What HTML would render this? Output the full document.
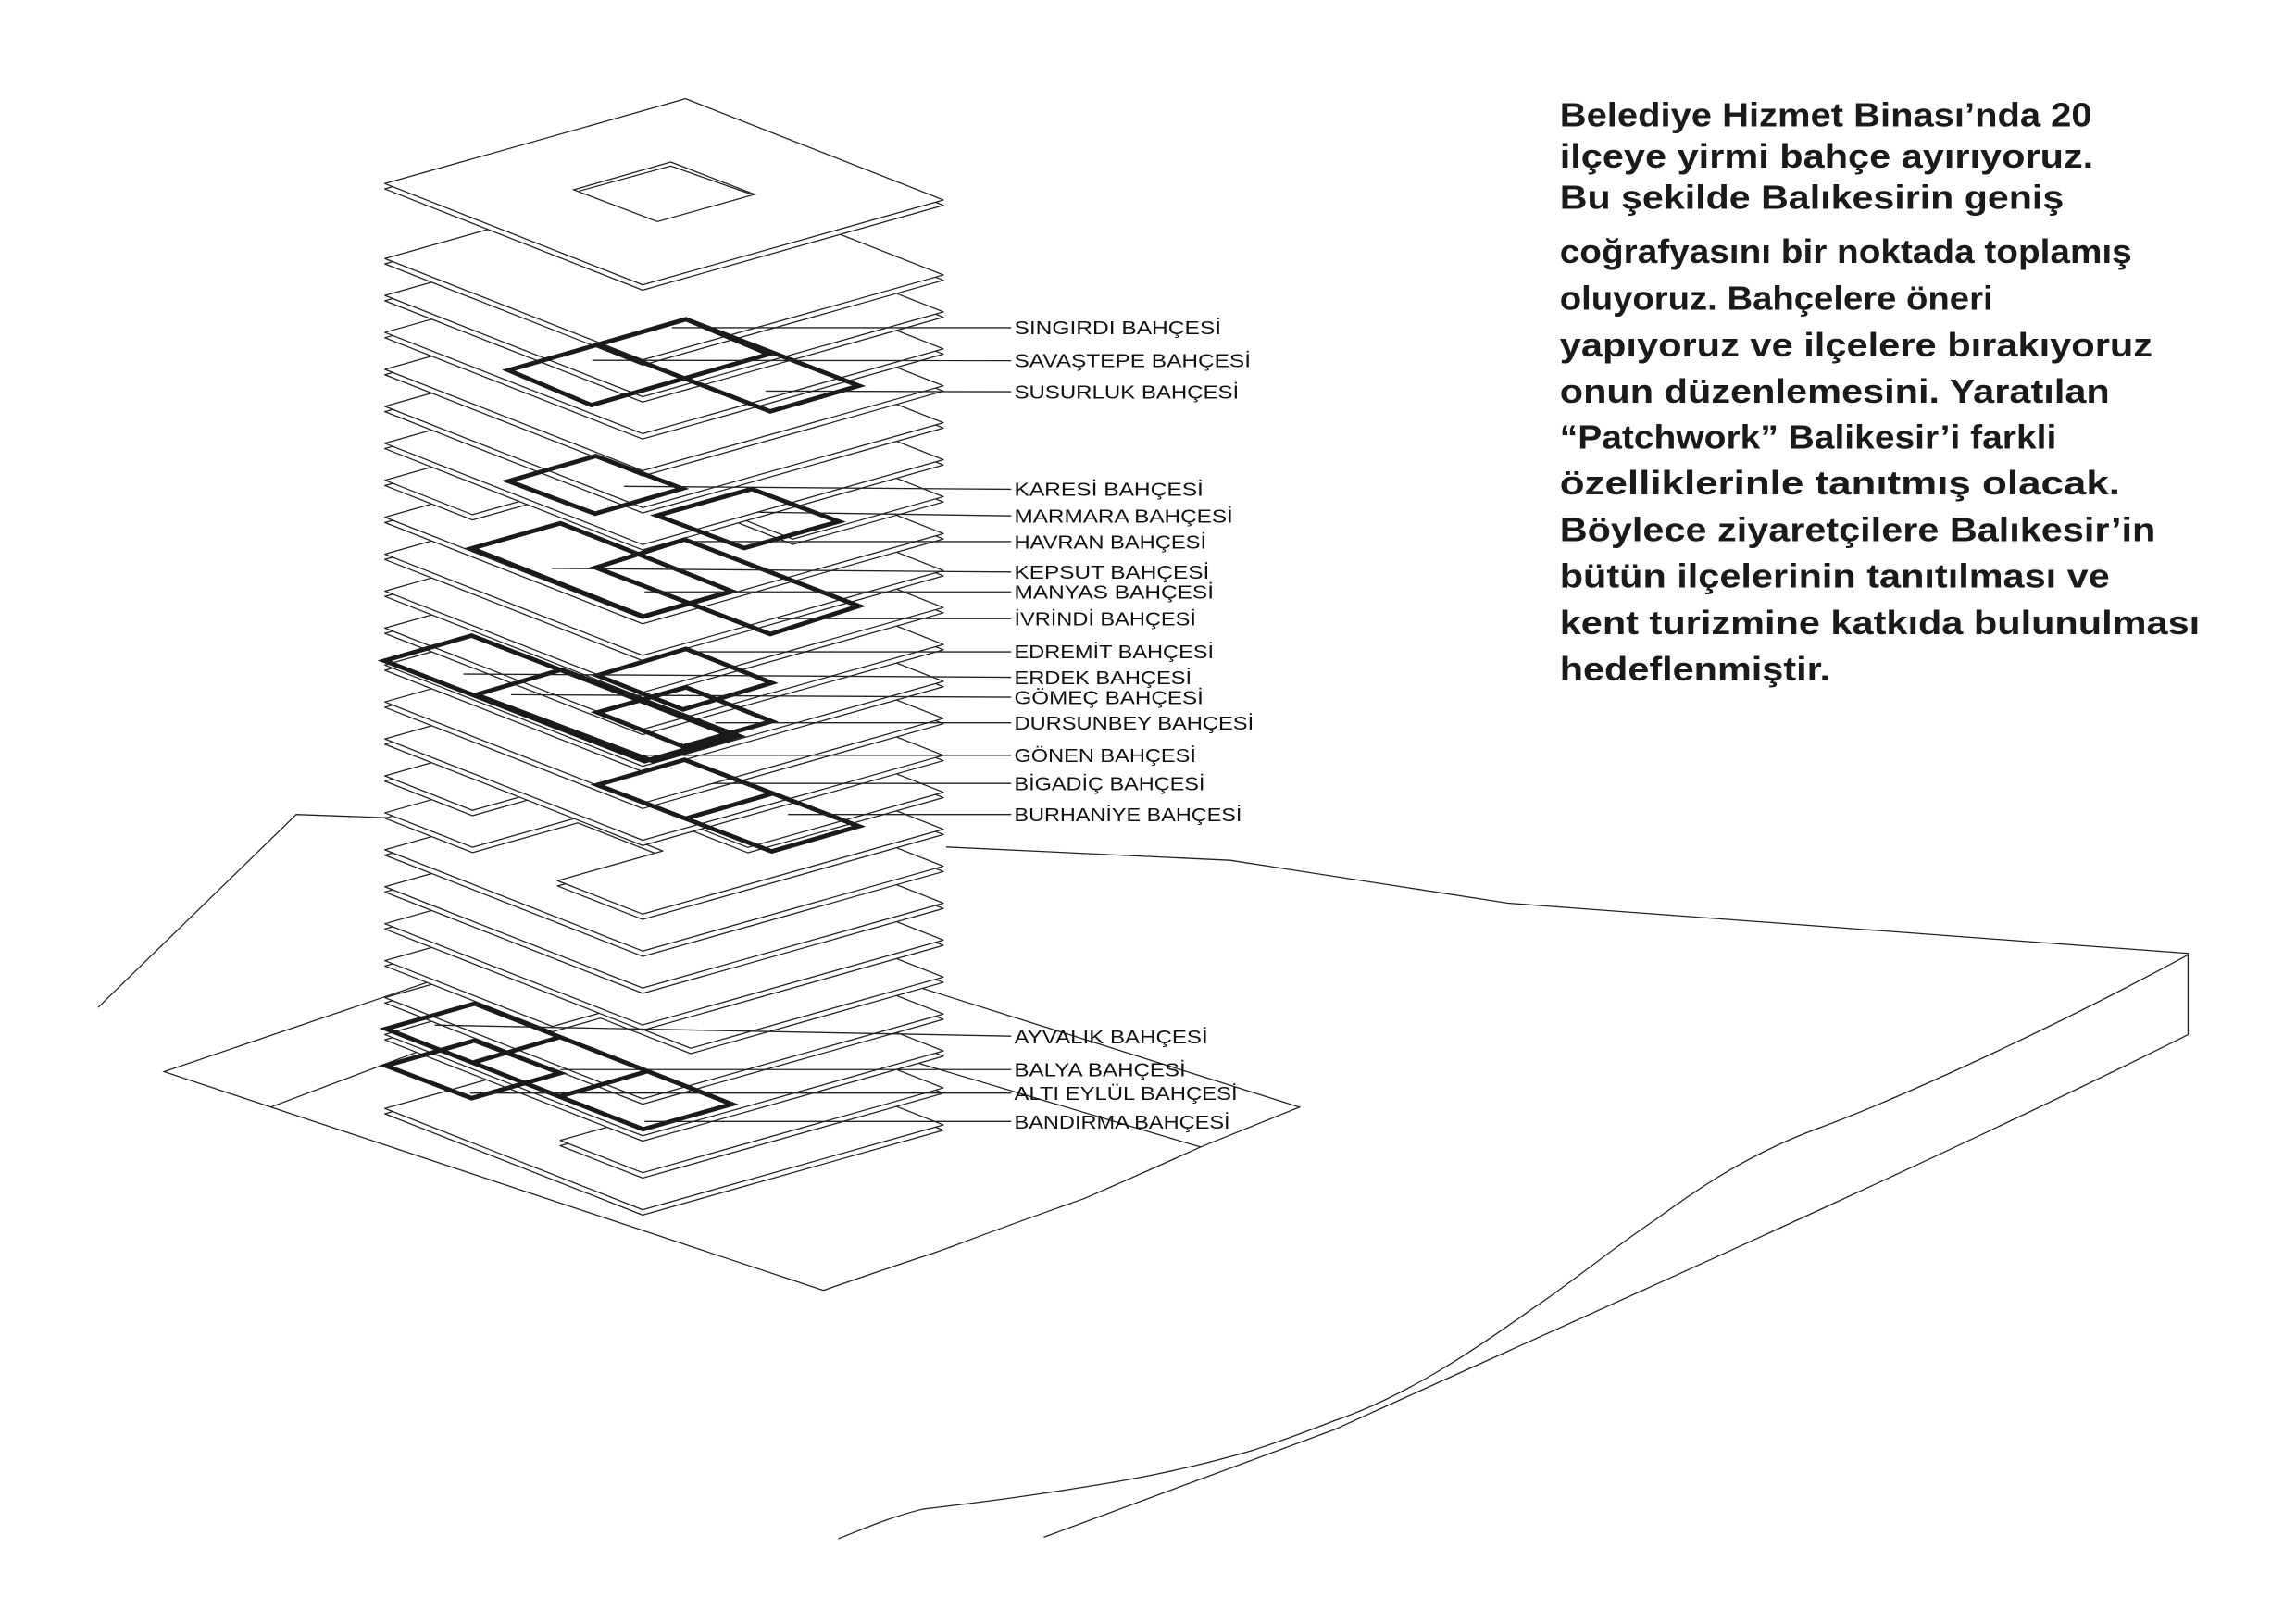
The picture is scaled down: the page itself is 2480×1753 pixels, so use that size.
<!DOCTYPE html>
<html><head><meta charset="utf-8"><style>
html,body{margin:0;padding:0;background:#fff;}
svg{display:block;}
.lb{font-family:"Liberation Sans",Arial,sans-serif;font-size:12.5px;fill:#111;}
.pg{font-family:"Liberation Sans",Arial,sans-serif;font-size:22.5px;font-weight:bold;fill:#1a1a1a;}
</style></head><body>
<svg id="s" width="2480" height="1753" viewBox="0 0 1553 1098" preserveAspectRatio="none" xmlns="http://www.w3.org/2000/svg">
<rect width="1553" height="1098" fill="#fff"/>
<g fill="none" stroke="#222" stroke-width="0.8">
<polyline points="66.4,681.5 200.4,551 269,553.5"/>
<polyline points="640,573 832,582 1020,611 1480,645 1480,700"/>
<path d="M1480,646 C1380,700 1280,745 1228,764 C1180,782 1146,806 1120,825 C1090,845 1060,870 1037,885 C995,915 950,945 903,961 C880,970 860,977 848,981 C800,995 760,1002 727,1007 C690,1013 650,1018 624,1021 C600,1027 585,1034 567,1041"/>
<path d="M1480,700 C1300,790 1050,900 903,967 L706,1040"/>
<polyline points="444,612 111,725 557,873"/>
<path d="M557,873 C600,858 640,845 642,844 C690,826 733,811 733,811 C770,795 812,776 812,776 L879,749 L444,612"/>
<line x1="183" y1="749" x2="300" y2="705"/>
<line x1="812" y1="776" x2="600" y2="713"/>
</g>
<g id="bld"></g>
<g id="gar" fill="none" stroke="#1a1a1a" stroke-width="3" stroke-linejoin="miter"></g>
<g stroke="#222" stroke-width="0.85" fill="none">
<line x1="454.5" y1="221.7" x2="684" y2="221.7"/>
<line x1="400.6" y1="243.8" x2="684" y2="244"/>
<line x1="518" y1="264.6" x2="684" y2="265"/>
<line x1="422" y1="329" x2="684" y2="331"/>
<line x1="512" y1="346.5" x2="684" y2="349"/>
<line x1="466" y1="366.4" x2="684" y2="366.4"/>
<line x1="373" y1="384.5" x2="684" y2="387"/>
<line x1="436" y1="400.4" x2="684" y2="400.4"/>
<line x1="526" y1="418.5" x2="684" y2="418.5"/>
<line x1="466" y1="441" x2="684" y2="441"/>
<line x1="313.5" y1="456" x2="684" y2="458.2"/>
<line x1="345.6" y1="470" x2="684" y2="471.7"/>
<line x1="484" y1="489" x2="684" y2="489"/>
<line x1="435" y1="511" x2="684" y2="511"/>
<line x1="482" y1="530" x2="684" y2="530"/>
<line x1="533" y1="551" x2="684" y2="551"/>
<line x1="294" y1="693.5" x2="684" y2="701"/>
<line x1="379" y1="723.6" x2="684" y2="723.6"/>
<line x1="318" y1="739.5" x2="684" y2="739.5"/>
<line x1="436" y1="758.7" x2="684" y2="758.7"/>
</g>
<g class="lb">
<text x="686" y="226.2" textLength="140" lengthAdjust="spacingAndGlyphs">SINGIRDI BAHÇESİ</text>
<text x="686" y="248.5" textLength="160" lengthAdjust="spacingAndGlyphs">SAVAŞTEPE BAHÇESİ</text>
<text x="686" y="269.5" textLength="152" lengthAdjust="spacingAndGlyphs">SUSURLUK BAHÇESİ</text>
<text x="686" y="335.5" textLength="128" lengthAdjust="spacingAndGlyphs">KARESİ BAHÇESİ</text>
<text x="686" y="353.5" textLength="148" lengthAdjust="spacingAndGlyphs">MARMARA BAHÇESİ</text>
<text x="686" y="371" textLength="130" lengthAdjust="spacingAndGlyphs">HAVRAN BAHÇESİ</text>
<text x="686" y="391.5" textLength="132" lengthAdjust="spacingAndGlyphs">KEPSUT  BAHÇESİ</text>
<text x="686" y="405" textLength="135" lengthAdjust="spacingAndGlyphs">MANYAS  BAHÇESİ</text>
<text x="686" y="423" textLength="123" lengthAdjust="spacingAndGlyphs">İVRİNDİ BAHÇESİ</text>
<text x="686" y="445.5" textLength="135" lengthAdjust="spacingAndGlyphs">EDREMİT BAHÇESİ</text>
<text x="686" y="463" textLength="120" lengthAdjust="spacingAndGlyphs">ERDEK BAHÇESİ</text>
<text x="686" y="476.5" textLength="128" lengthAdjust="spacingAndGlyphs">GÖMEÇ  BAHÇESİ</text>
<text x="686" y="493.5" textLength="162" lengthAdjust="spacingAndGlyphs">DURSUNBEY BAHÇESİ</text>
<text x="686" y="515.5" textLength="123" lengthAdjust="spacingAndGlyphs">GÖNEN BAHÇESİ</text>
<text x="686" y="534.5" textLength="129" lengthAdjust="spacingAndGlyphs">BİGADİÇ BAHÇESİ</text>
<text x="686" y="555.5" textLength="154" lengthAdjust="spacingAndGlyphs">BURHANİYE BAHÇESİ</text>
<text x="686" y="706" textLength="131" lengthAdjust="spacingAndGlyphs">AYVALIK BAHÇESİ</text>
<text x="686" y="728" textLength="116" lengthAdjust="spacingAndGlyphs">BALYA BAHÇESİ</text>
<text x="686" y="744" textLength="151" lengthAdjust="spacingAndGlyphs">ALTI EYLÜL BAHÇESİ</text>
<text x="686" y="763.5" textLength="146" lengthAdjust="spacingAndGlyphs">BANDIRMA BAHÇESİ</text>
</g>
<g class="pg">
<text x="1055" y="85.6" textLength="360" lengthAdjust="spacingAndGlyphs">Belediye Hizmet Binası’nda 20</text>
<text x="1055" y="113.4" textLength="361" lengthAdjust="spacingAndGlyphs">ilçeye yirmi bahçe ayırıyoruz.</text>
<text x="1055" y="141.2" textLength="341" lengthAdjust="spacingAndGlyphs">Bu şekilde Balıkesirin geniş</text>
<text x="1055" y="178" textLength="387" lengthAdjust="spacingAndGlyphs">coğrafyasını bir noktada toplamış</text>
<text x="1055" y="209.5" textLength="293" lengthAdjust="spacingAndGlyphs">oluyoruz. Bahçelere öneri</text>
<text x="1055" y="241" textLength="401" lengthAdjust="spacingAndGlyphs">yapıyoruz ve ilçelere bırakıyoruz</text>
<text x="1055" y="272.5" textLength="372" lengthAdjust="spacingAndGlyphs">onun düzenlemesini. Yaratılan</text>
<text x="1055" y="303.5" textLength="336" lengthAdjust="spacingAndGlyphs">“Patchwork” Balikesir’i farkli</text>
<text x="1055" y="334.5" textLength="379" lengthAdjust="spacingAndGlyphs">özelliklerinle tanıtmış olacak.</text>
<text x="1055" y="366" textLength="403" lengthAdjust="spacingAndGlyphs">Böylece ziyaretçilere Balıkesir’in</text>
<text x="1055" y="397.5" textLength="372" lengthAdjust="spacingAndGlyphs">bütün ilçelerinin tanıtılması ve</text>
<text x="1055" y="429" textLength="433" lengthAdjust="spacingAndGlyphs">kent turizmine katkıda bulunulması</text>
<text x="1055" y="460.5" textLength="183" lengthAdjust="spacingAndGlyphs">hedeflenmiştir.</text>
</g>
</svg>
<script>
(function(){
var NS="http://www.w3.org/2000/svg";
var bld=document.getElementById("bld"), gar=document.getElementById("gar");
function P(dy,s,t){return [463.7-203.4*s+174.4*t, 66.8+dy+57.4*s+68.5*t];}
function poly(parent,pts,attrs){var e=document.createElementNS(NS,"polygon");
 e.setAttribute("points",pts.map(function(p){return p[0].toFixed(1)+","+p[1].toFixed(1);}).join(" "));
 for(var k in attrs)e.setAttribute(k,attrs[k]);parent.appendChild(e);return e;}
var full=[[0,0],[1,0],[1,1],[0,1]];
var shapes={
 6:[[0,0],[1,0],[1,.34],[.5,.34],[.5,1],[0,1]],
 14:[[0,0],[1,0],[1,.34],[.65,.34],[.65,1],[0,1]],
 15:[[0,0],[1,0],[1,.34],[.65,.34],[.65,.67],[1,.67],[1,1],[0,1]],
 19:[[0,0],[1,0],[1,.65],[.84,.65],[.84,1],[0,1]],
 22:[[0,0],[.6,0],[.6,.68],[1,.68],[1,1],[0,1]]
};
function slab(dy,sh){
 var pts=sh.map(function(q){return P(dy,q[0],q[1]);});
 var low=pts.map(function(p){return [p[0],p[1]+3.6];});
 var st={fill:"#fff",stroke:"#222","stroke-width":"0.8","stroke-linejoin":"round"};
 poly(bld,low,st);poly(bld,pts,st);
}
for(var k=23;k>=0;k--){slab(50.7+25*k,shapes[k]||full);}
slab(0,full);
var st2={fill:"none",stroke:"#222","stroke-width":"0.8"};
poly(bld,[[453.7,109.6],[388,128.4],[444.7,149.9],[510.4,131.5]],st2);
var l=document.createElementNS(NS,"polyline");
l.setAttribute("points","391.5,129.3 453.7,112.3 507,131");
l.setAttribute("fill","none");l.setAttribute("stroke","#222");l.setAttribute("stroke-width","0.8");bld.appendChild(l);
function G(px,py,ax,ay,bx,by){poly(gar,[[px,py],[px+ax,py+ay],[px+ax+bx,py+ay+by],[px+bx,py+by]],{});}
function L(x1,y1,x2,y2){var e=document.createElementNS(NS,"line");
 e.setAttribute("x1",x1);e.setAttribute("y1",y1);e.setAttribute("x2",x2);e.setAttribute("y2",y2);gar.appendChild(e);}
G(464,216,-60,17.3,117,45);
G(464,216,-120,34.5,56,23.6);
G(403,308.5,-59,17,58.5,22);
G(508.4,330.8,-64,18,59,22);
G(379,354,-60,17,116,46);
G(463,365,-60,19,118,45);
G(464,439,-60,18,58,23);
G(464,465,-60,17,58,23);
G(319,430,-59,17,176,68);
G(380,453,-58,17,120,45);
G(463,514,-59,17,118,45);
L(522,537,463,554);
G(321,679,-60,17,174,68);
L(379,701.6,319.5,719);L(437,725,378,742);
G(321,704,-60,17,58,22);
})();
</script>
</body></html>
